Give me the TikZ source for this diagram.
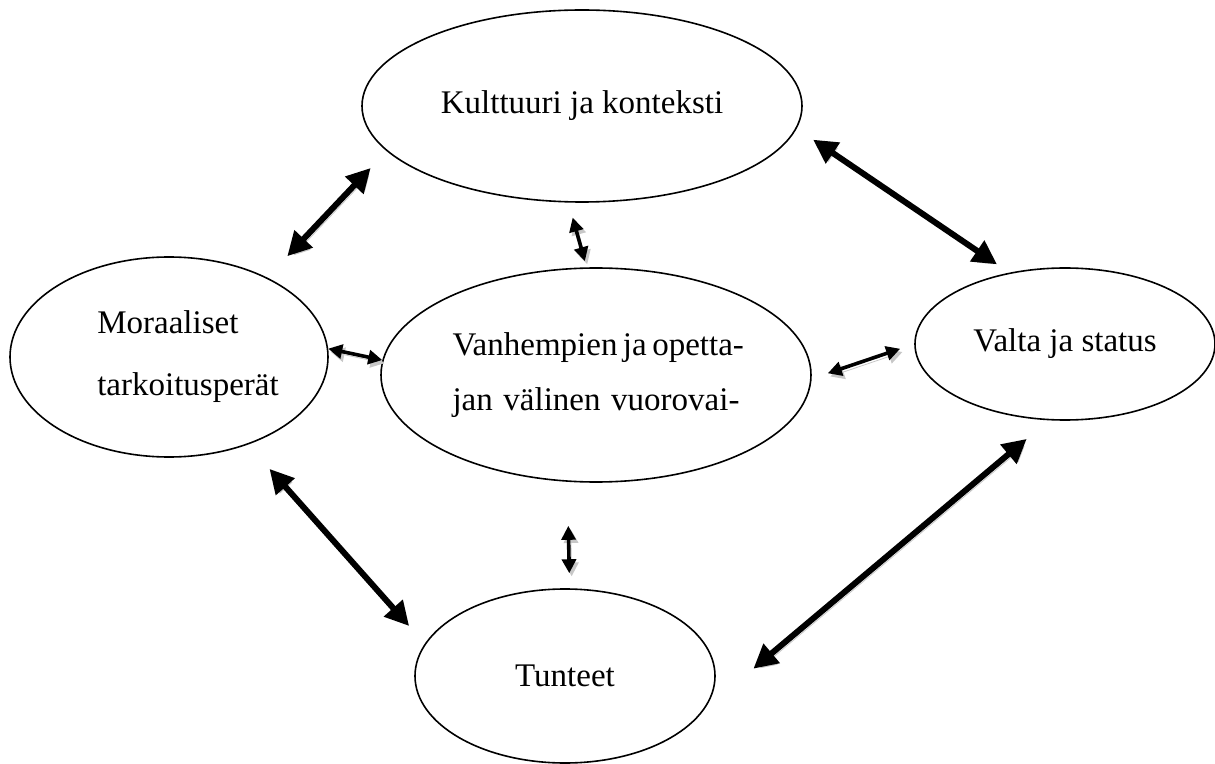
\documentclass[tikz,border=0pt]{standalone}
\usepackage{fontspec}
\setmainfont{Liberation Serif}
\usepackage{tikz}
\usetikzlibrary{arrows.meta,shapes.geometric}

\tikzset{
  oval/.style={draw,thick,ellipse,inner sep=0pt},
  shade/.style={preaction={draw=black!22,transform canvas={shift={(1.2pt,-1.6pt)}}}},
  bigarrow/.style={shade,line width=3pt,{Triangle[length=12pt,width=12pt]}-{Triangle[length=12pt,width=12pt]}},
  smallarrow/.style={shade,line width=1.8pt,{Triangle[length=7pt,width=7pt]}-{Triangle[length=7pt,width=7pt]}}
}

\begin{document}
\begin{tikzpicture}[x=0.5pt,y=-0.5pt,every node/.style={font=\fontsize{16.5}{20}\selectfont}]
  \useasboundingbox (0,0) rectangle (1215,764);
  % ellipses
  \node[oval,minimum width=220pt,minimum height=96pt] (kulttuuri) at (582,106) {Kulttuuri ja konteksti};
  \node[oval,minimum width=159pt,minimum height=100pt,align=left,
        font=\fontsize{16.5}{31}\selectfont] (moraali) at (169,357)
        {\hspace*{19pt}Moraaliset\\\hspace*{19pt}tarkoitusperät};
  \node[oval,minimum width=215pt,minimum height=107pt,align=center,
        font=\fontsize{16.5}{27.5}\selectfont] (vuoro) at (596,375)
        {\makebox[143.5pt][s]{Vanhempien ja opetta-}\\\makebox[143.5pt][s]{jan välinen vuorovai-}};
  \node[oval,minimum width=150pt,minimum height=76pt] (valta) at (1065,344) {Valta ja status};
  \node[oval,minimum width=150pt,minimum height=87pt] (tunteet) at (565,676) {Tunteet};
  % arrows
  \draw[bigarrow,shorten <=14.6pt,shorten >=11.6pt] (moraali.39) -- (kulttuuri.193);
  \draw[smallarrow,shorten <=7.8pt,shorten >=3.2pt] (kulttuuri.262) -- (vuoro.95);
  \draw[bigarrow,shorten <=9.9pt,shorten >=7.4pt] (kulttuuri.354.5) -- (valta.128.3);
  \draw[smallarrow] (moraali.3.3) -- (vuoro.176);
  \draw[smallarrow,shorten <=8.5pt,shorten >=7.4pt] (vuoro.359.2) -- (valta.180.6);
  \draw[bigarrow,shorten <=16.2pt,shorten >=11.8pt] (moraali.312.5) -- (tunteet.167);
  \draw[smallarrow,shorten <=22pt,shorten >=7.5pt] (vuoro.255.7) -- (tunteet.87.4);
  \draw[bigarrow,shorten <=32.5pt,shorten >=14.4pt] (tunteet.346.8) -- (valta.258.8);
\end{tikzpicture}
\end{document}
